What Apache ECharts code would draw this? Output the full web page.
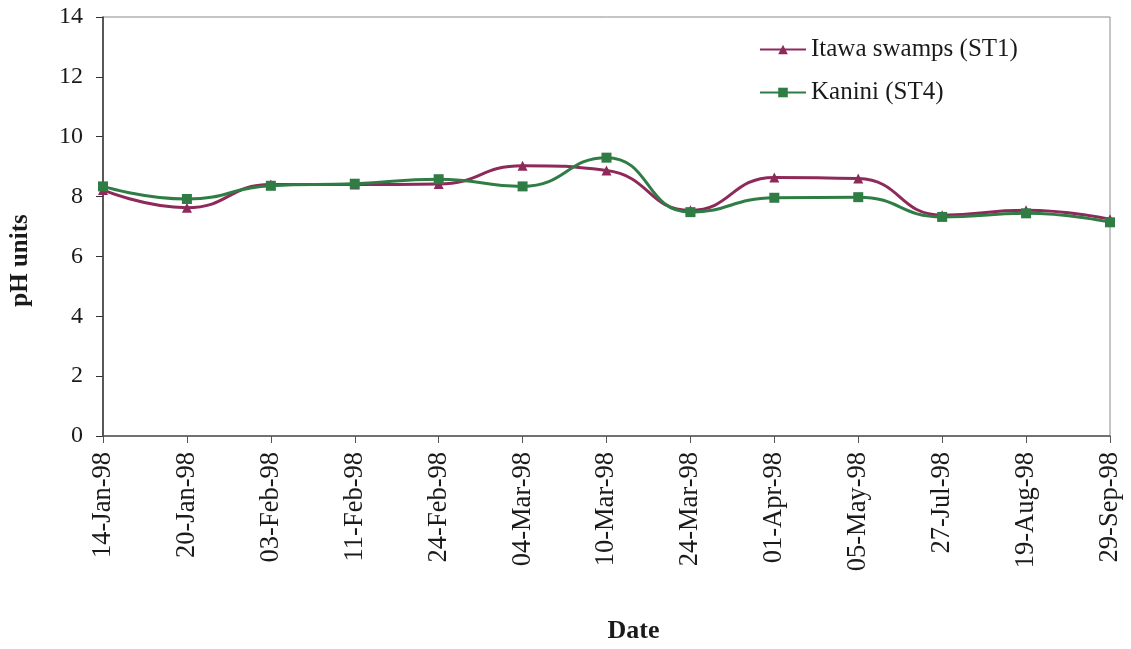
<!DOCTYPE html>
<html><head><meta charset="utf-8">
<script src="https://cdn.jsdelivr.net/npm/echarts@6/dist/echarts.min.js"></script>
<style>html,body{margin:0;padding:0;background:#fff}#c{width:1131px;height:649px}</style>
</head><body><div id="c"></div>
<script>
const categories = ['14-Jan-98','20-Jan-98','03-Feb-98','11-Feb-98','24-Feb-98','04-Mar-98','10-Mar-98','24-Mar-98','01-Apr-98','05-May-98','27-Jul-98','19-Aug-98','29-Sep-98'];
const itawa = [8.22, 7.63, 8.4, 8.4, 8.42, 9.03, 8.87, 7.54, 8.64, 8.6, 7.38, 7.54, 7.24];
const kanini = [8.34, 7.92, 8.36, 8.43, 8.58, 8.34, 9.3, 7.48, 7.96, 7.98, 7.32, 7.44, 7.14];
const yTicks = [0, 2, 4, 6, 8, 10, 12, 14];

const font = 'Liberation Serif';
const chart = echarts.init(document.getElementById('c'));
chart.setOption({
  animation: false,
  backgroundColor: '#fff',
  textStyle: { fontFamily: font },
  grid: { left: 103, right: 21, top: 17, bottom: 208, show: true, borderColor: '#8a8a8a', borderWidth: 1 },
  legend: {
    orient: 'vertical', left: 754, top: 32, itemGap: 18, itemWidth: 46, itemHeight: 12,
    textStyle: { fontFamily: font, fontSize: 25, color: '#1a1a1a' },
    data: ['Itawa swamps (ST1)', 'Kanini (ST4)']
  },
  xAxis: {
    type: 'category', data: categories, boundaryGap: false,
    name: 'Date', nameLocation: 'middle', nameGap: 182,
    nameTextStyle: { fontFamily: font, fontSize: 26, fontWeight: 'bold', color: '#1a1a1a', padding: [0, 0, 0, 54] },
    axisLine: { lineStyle: { color: '#555', width: 1.5 } },
    axisTick: { show: true, length: 7, lineStyle: { color: '#555' } },
    axisLabel: { rotate: 90, fontFamily: font, fontSize: 26.5, color: '#1a1a1a', margin: 16, interval: 0 },
    splitLine: { show: false }
  },
  yAxis: {
    type: 'value', min: yTicks[0], max: yTicks[yTicks.length - 1], interval: 2,
    name: 'pH units', nameLocation: 'middle', nameGap: 70, nameRotate: 90,
    nameTextStyle: { fontFamily: font, fontSize: 25, fontWeight: 'bold', color: '#1a1a1a', padding: [0, 68, 0, 0] },
    axisLine: { show: true, lineStyle: { color: '#333', width: 1.5 } },
    axisTick: { show: true, length: 7, lineStyle: { color: '#333' } },
    axisLabel: { fontFamily: font, fontSize: 24, color: '#1a1a1a', margin: 20 },
    splitLine: { show: false }
  },
  series: [
    {
      name: 'Itawa swamps (ST1)', type: 'line', data: itawa, smooth: 0.5,
      symbol: 'triangle', symbolSize: 10,
      lineStyle: { color: '#8e2a5a', width: 3 },
      itemStyle: { color: '#8e2a5a' }
    },
    {
      name: 'Kanini (ST4)', type: 'line', data: kanini, smooth: 0.5,
      symbol: 'rect', symbolSize: 10,
      lineStyle: { color: '#2f7d45', width: 3 },
      itemStyle: { color: '#2f7d45' }
    }
  ]
});
</script></body></html>
